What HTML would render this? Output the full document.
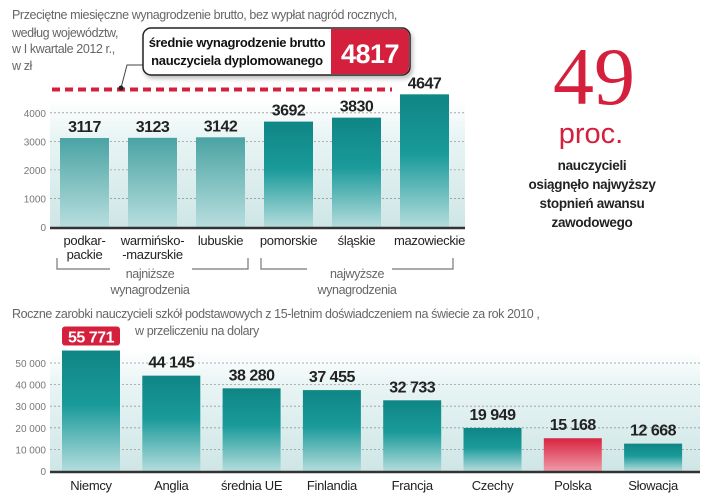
<!DOCTYPE html>
<html><head><meta charset="utf-8">
<style>
html,body{margin:0;padding:0;background:#fff;}
svg{display:block;font-family:"Liberation Sans",sans-serif;}
.t{fill:#666;font-size:12.5px;letter-spacing:-0.4px;}
.tick{fill:#777;font-size:10px;text-anchor:end;}
.val{fill:#222;font-size:16px;font-weight:bold;text-anchor:middle;letter-spacing:-0.5px;}
.cat{fill:#222;font-size:13px;text-anchor:middle;letter-spacing:-0.3px;}
.grp{fill:#666;font-size:12.5px;text-anchor:middle;letter-spacing:-0.4px;}
.side{fill:#222;font-size:13.5px;font-weight:bold;text-anchor:middle;letter-spacing:-0.3px;}
</style></head>
<body>
<svg id="chart" width="720" height="498" viewBox="0 0 720 498">
<defs>
<linearGradient id="bgTop" x1="0" y1="0" x2="0" y2="1"><stop offset="0" stop-color="#ffffff"/><stop offset="0.3" stop-color="#e8f4f4"/><stop offset="1" stop-color="#cfe6e6"/></linearGradient>
<linearGradient id="barDark" x1="0" y1="0" x2="0" y2="1"><stop offset="0" stop-color="#0f8585"/><stop offset="0.45" stop-color="#1a9a9a"/><stop offset="1" stop-color="#b4dcdc"/></linearGradient>
<linearGradient id="barLight" x1="0" y1="0" x2="0" y2="1"><stop offset="0" stop-color="#4aa3a3"/><stop offset="1" stop-color="#b8dede"/></linearGradient>
<linearGradient id="barRed" x1="0" y1="0" x2="0" y2="1"><stop offset="0" stop-color="#d8243f"/><stop offset="1" stop-color="#ef9aa8"/></linearGradient>
<filter id="sh" x="-10%" y="-20%" width="130%" height="160%"><feDropShadow dx="2" dy="3" stdDeviation="2" flood-color="#000" flood-opacity="0.25"/></filter>
</defs>

<g>
<text class="t" x="12" y="19">Przeciętne miesięczne wynagrodzenie brutto, bez wypłat nagród rocznych,</text>
<text class="t" x="12" y="37">według województw,</text>
<text class="t" x="12" y="53">w I kwartale 2012 r.,</text>
<text class="t" x="12" y="70">w zł</text>
</g>

<g id="top"></g>
<g id="bottom"></g>

<g>
<polyline points="143,65 127,65 121,88" fill="none" stroke="#444" stroke-width="1"/>
<circle cx="121" cy="88" r="2.5" fill="#222"/>
<g filter="url(#sh)">
<rect x="143" y="28" width="267" height="47" rx="8" fill="#fff" stroke="#222" stroke-width="1.5"/>
</g>
<path d="M331,29 L402,29 Q409,29 409,36 L409,67 Q409,74 402,74 L331,74 Z" fill="#d41f3d"/>
<text x="237" y="47" style="font-size:13px;font-weight:bold;fill:#111;text-anchor:middle;letter-spacing:-0.3px">średnie wynagrodzenie brutto</text>
<text x="237" y="65" style="font-size:13px;font-weight:bold;fill:#111;text-anchor:middle;letter-spacing:-0.3px">nauczyciela dyplomowanego</text>
<text x="370" y="63" style="font-size:27px;font-weight:bold;fill:#fff;text-anchor:middle;letter-spacing:-0.5px">4817</text>
</g>

<g>
<text x="594" y="104" style="font-size:82px;fill:#d41f3d;text-anchor:middle;font-family:'Liberation Serif',serif;font-weight:normal">49</text>
<text x="591" y="143" style="font-size:29px;fill:#d41f3d;text-anchor:middle">proc.</text>
<text class="side" x="592" y="170">nauczycieli</text>
<text class="side" x="592" y="189">osiągnęło najwyższy</text>
<text class="side" x="592" y="208">stopnień awansu</text>
<text class="side" x="592" y="227">zawodowego</text>
</g>

<g>
<polyline points="57,258 57,269 110,269" fill="none" stroke="#777" stroke-width="1.2"/>
<polyline points="192,269 248,269 248,258" fill="none" stroke="#777" stroke-width="1.2"/>
<text class="grp" x="150" y="278">najniższe</text>
<text class="grp" x="150" y="294">wynagrodzenia</text>
<polyline points="261,258 261,269 307,269" fill="none" stroke="#777" stroke-width="1.2"/>
<polyline points="392,269 453,269 453,258" fill="none" stroke="#777" stroke-width="1.2"/>
<text class="grp" x="357" y="278">najwyższe</text>
<text class="grp" x="357" y="294">wynagrodzenia</text>
</g>

<g>
<text class="t" x="12" y="318">Roczne zarobki nauczycieli szkół podstawowych z 15-letnim doświadczeniem na świecie za rok 2010 ,</text>
<text class="t" x="135" y="335">w przeliczeniu na dolary</text>
</g>
</svg>
<script>
var topCats = [["podkar-","packie"],["warmińsko-","-mazurskie"],["lubuskie"],["pomorskie"],["śląskie"],["mazowieckie"]];
var topValues = [3117, 3123, 3142, 3692, 3830, 4647];
var topLabels = ["3117","3123","3142","3692","3830","4647"];
var topTicks = [0, 1000, 2000, 3000, 4000];
var topAverage = 4817;
var botCats = ["Niemcy","Anglia","średnia UE","Finlandia","Francja","Czechy","Polska","Słowacja"];
var botValues = [55771, 44145, 38280, 37455, 32733, 19949, 15168, 12668];
var botLabels = ["55 771","44 145","38 280","37 455","32 733","19 949","15 168","12 668"];
var botTicks = [0, 10000, 20000, 30000, 40000, 50000];
var botTickLabels = ["0","10 000","20 000","30 000","40 000","50 000"];

var NS = "http://www.w3.org/2000/svg";
function mk(tag, attrs, parent, txt){var e=document.createElementNS(NS,tag);for(var k in attrs)e.setAttribute(k,attrs[k]);if(txt!==undefined)e.textContent=txt;parent.appendChild(e);return e;}

// top chart
var T = document.getElementById('top');
function ty(v){return 227 - v*0.02855;}
function tx(i){return 60 + i*68;}
var bg = mk('rect',{x:50,y:100,width:415,height:127,fill:'url(#bgTop)'},T);


topTicks.forEach(function(t){
  if(t>0){var g=mk('line',{x1:50,x2:465,y1:ty(t),y2:ty(t),stroke:'#999','stroke-width':0.8,'stroke-dasharray':'2,2'},T);
  
  }
  var l=mk('text',{class:'tick',x:46,y:ty(t)+4},T,String(t));
  
  
});
var avg=mk('line',{x1:52,x2:392,y1:ty(topAverage),y2:ty(topAverage),stroke:'#d41f3d','stroke-width':4,'stroke-dasharray':'8,5'},T);


topValues.forEach(function(v,i){
  var r=mk('rect',{x:tx(i),y:ty(v),width:49,height:227-ty(v),fill:i<3?'url(#barLight)':'url(#barDark)'},T);
  
  
  var lb=mk('text',{class:'val',x:tx(i)+24.5,y:ty(v)-6},T,topLabels[i]);
  
  
  topCats[i].forEach(function(s,j){
    var c=mk('text',{class:'cat',x:tx(i)+24.5+(i==5?5:0),y:245+j*14},T,s);
    
    
  });
});
var ax=mk('line',{x1:50,x2:465,y1:228,y2:228,stroke:'#333','stroke-width':2.5},T);



// bottom chart
var B = document.getElementById('bottom');
function by(v){return 471 - v*0.00216;}
function bx(i){return 62 + i*80.3;}
var bg2=mk('rect',{x:50,y:350,width:650,height:121,fill:'url(#bgTop)'},B);


botTicks.forEach(function(t,i){
  if(t>0){var g=mk('line',{x1:50,x2:700,y1:by(t),y2:by(t),stroke:'#999','stroke-width':0.8,'stroke-dasharray':'2,2'},B);
  
  }
  var l=mk('text',{class:'tick',x:46,y:by(t)+4},B,botTickLabels[i]);
  
  
});
botValues.forEach(function(v,i){
  var r=mk('rect',{x:bx(i),y:by(v),width:58,height:471-by(v),fill:i==6?'url(#barRed)':'url(#barDark)'},B);
  
  
  if(i==0){
    var bx0=mk('rect',{x:bx(i),y:by(v)-24,width:58,height:19,rx:3,fill:'#d41f3d'},B);
    
    
  }
  var lb=mk('text',{class:'val',x:bx(i)+29,y:by(v)-8,fill:i==0?'#fff':'#222'},B,botLabels[i]);
  if(i==0)lb.setAttribute('style','fill:#fff');
  
  
  var c=mk('text',{class:'cat',x:bx(i)+29,y:490},B,botCats[i]);
  
  
});
var ax2=mk('line',{x1:50,x2:700,y1:472,y2:472,stroke:'#333','stroke-width':2.5},B);


</script>
</body></html>
